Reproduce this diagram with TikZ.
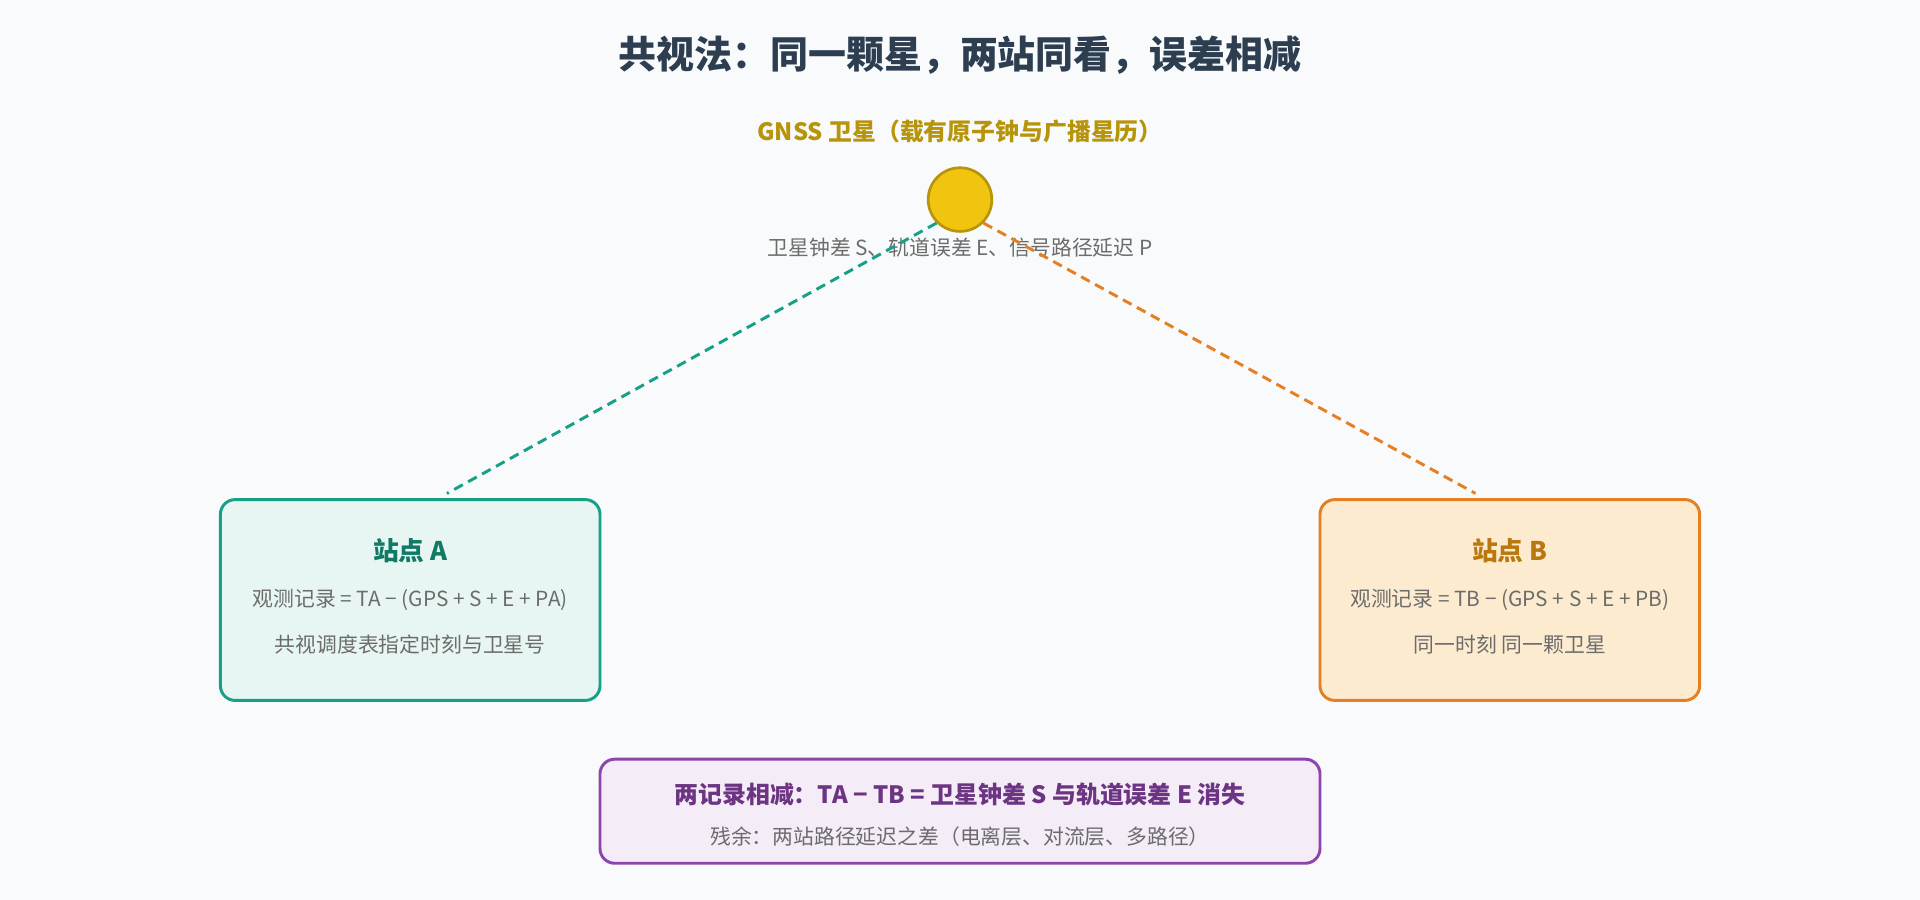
\documentclass[tikz,border=0pt]{standalone}
\usepackage{fontspec}
\setmainfont{Noto Sans CJK SC}
\begin{document}
\begin{tikzpicture}[x=1pt,y=-1pt,
  box/.style={draw,line width=2.4pt,rounded corners=12pt,inner sep=0pt},
  txt/.style={text=gray!85!black,font=\fontsize{17}{20}\selectfont},
  ttl/.style={font=\bfseries\fontsize{21}{24}\selectfont},
  dashln/.style={line width=2.4pt,dash pattern=on 8pt off 5pt}]
\definecolor{bg}{HTML}{F8FAFC}
\fill[bg] (0,0) rectangle (1568,735);
\useasboundingbox (0,0) rectangle (1568,735);
\node[font=\bfseries\fontsize{31}{34}\selectfont,text={rgb,255:red,44;green,62;blue,80}] (title) at (784,45) {共视法：同一颗星，两站同看，误差相减};
\node[font=\bfseries\fontsize{19.5}{22}\selectfont,text={rgb,255:red,183;green,149;blue,11}] (glabel) at (784,107) {GNSS 卫星（载有原子钟与广播星历）};
\node[circle,draw={rgb,255:red,183;green,149;blue,11},fill={rgb,255:red,241;green,196;blue,15},line width=2.2pt,minimum size=52pt,inner sep=0pt] (sat) at (784,163) {};
\node[txt] (sattxt) at (784,202) {卫星钟差 S、轨道误差 E、信号路径延迟 P};
\node[box,draw={rgb,255:red,22;green,160;blue,133},fill={rgb,255:red,232;green,246;blue,243},minimum width=310pt,minimum height=164pt] (A) at (335,490) {};
\node[box,draw={rgb,255:red,230;green,126;blue,34},fill={rgb,255:red,253;green,235;blue,208},minimum width=310pt,minimum height=164pt] (B) at (1233,490) {};
\node[box,draw={rgb,255:red,142;green,68;blue,173},fill={rgb,255:red,244;green,236;blue,247},minimum width=588pt,minimum height=85pt] (C) at (784,662.5) {};
\node[ttl,text={rgb,255:red,17;green,122;blue,101}] (At) at (335,450) {站点 A};
\node[txt] (A1) at (335,490) {观测记录 = TA − (GPS + S + E + PA)};
\node[txt] (A2) at (335,526) {共视调度表指定时刻与卫星号};
\node[ttl,text={rgb,255:red,185;green,119;blue,14}] (Bt) at (1233,450) {站点 B};
\node[txt] (B1) at (1233,490) {观测记录 = TB − (GPS + S + E + PB)};
\node[txt] (B2) at (1233,526) {同一时刻 同一颗卫星};
\node[font=\bfseries\fontsize{19.5}{22}\selectfont,text={rgb,255:red,108;green,52;blue,131}] (C1) at (784,649) {两记录相减：TA − TB = 卫星钟差 S 与轨道误差 E 消失};
\node[txt] (C2) at (784,683) {残余：两站路径延迟之差（电离层、对流层、多路径）};
\coordinate (ea) at (365,403);
\coordinate (eb) at (1205,403);
\draw[dashln,draw={rgb,255:red,22;green,160;blue,133}] (sat.225) -- (ea);
\draw[dashln,draw={rgb,255:red,230;green,126;blue,34}] (sat.-45) -- (eb);
\end{tikzpicture}
\end{document}
